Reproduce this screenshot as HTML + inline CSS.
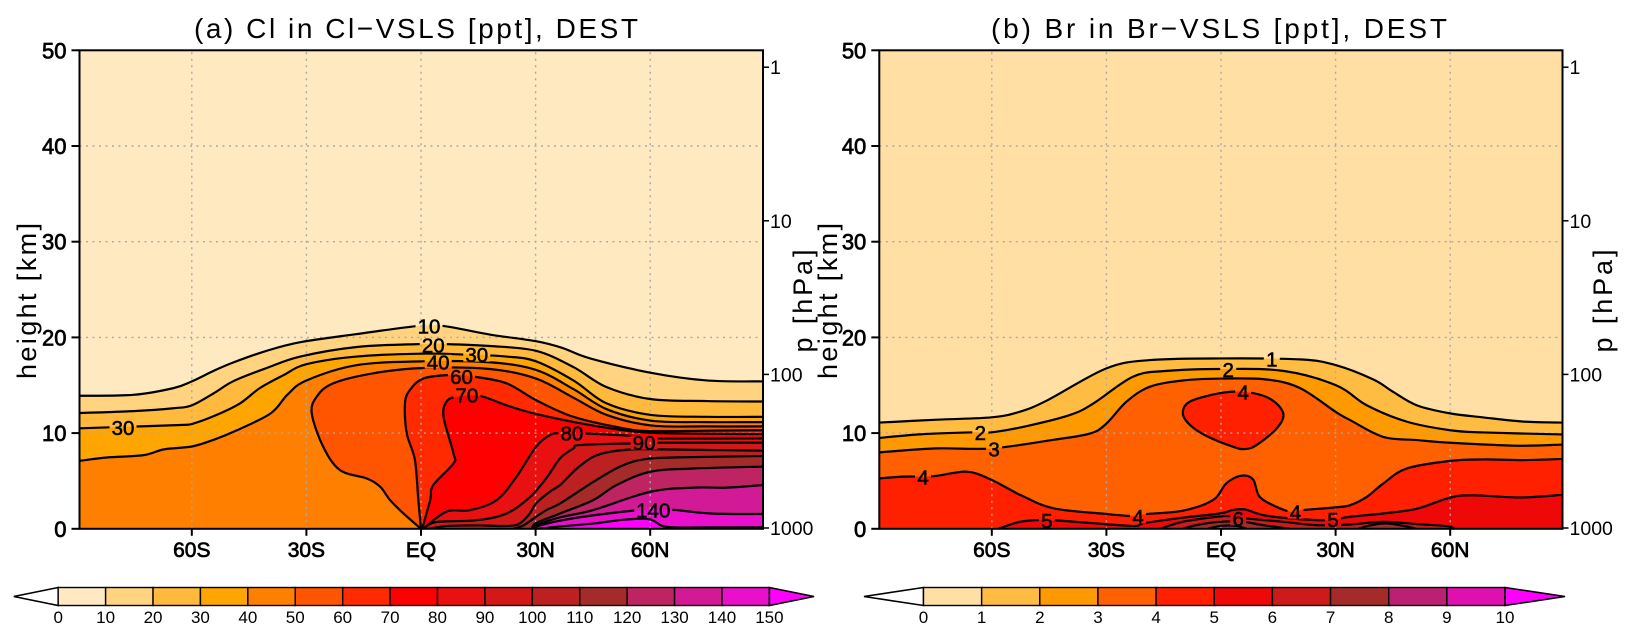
<!DOCTYPE html>
<html>
<head>
<meta charset="utf-8">
<title>Cl and Br VSLS zonal mean</title>
<style>
html,body{margin:0;padding:0;background:#fff;}
svg{display:block;font-family:"Liberation Sans",sans-serif;}
text{fill:#000;}
</style>
</head>
<body>
<svg id="chart" xmlns="http://www.w3.org/2000/svg" width="1628" height="637" viewBox="0 0 1628 637"></svg>
<script>
// ---------- Panel (a) Cl contours: [latitude, height km] ----------
const cl10=[[-89.4,13.9],[-75.3,14],[-64.8,14.7],[-60,15.4],[-54.3,16.5],[-49,17.4],[-40.4,18.6],[-31.6,19.5],[-16.8,20.35],[-0.7,21.2],[5.8,21.2],[18,20.3],[30.1,19.6],[37,18.9],[44.3,17.8],[60.2,16.3],[74.8,15.5],[89.5,15.4]];
const cl20=[[-89.4,12.1],[-75.3,12.3],[-64.8,12.6],[-60,12.9],[-54.3,14.15],[-49,15.45],[-40.4,16.8],[-31.6,18],[-16.8,19],[-0.7,19.3],[6.7,19.3],[18,19.1],[30.1,18.6],[39.9,16.9],[48.6,14.8],[60.2,13.55],[74.8,13.35],[89.5,13.3]];
const cl30=[[-89.4,10.5],[-78,10.65],[-63,10.85],[-59.6,11],[-53.5,11.9],[-47.4,13.1],[-42.2,14.7],[-36,16.05],[-30,17.2],[-16.9,18],[0,18.3],[12,18.2],[22.4,18],[30.1,17.5],[39.9,15.5],[48.6,13.1],[60.2,11.9],[74.8,11.7],[89.5,11.7]];
const cl40=[[-89.4,7.1],[-82.2,7.45],[-72.6,7.7],[-67.3,8.3],[-60,8.6],[-54.3,9.3],[-49,10.15],[-39.4,12.05],[-35,14],[-30,15.5],[-16.9,17.1],[0.5,17.5],[18,17.4],[30.1,16.6],[39.9,14.6],[48.6,12.5],[60.2,11.3],[74.8,11.15],[89.5,11.15]];
const cl50=[[0,0],[-4.6,1.6],[-8.1,3],[-10.7,4.4],[-14.2,5.26],[-21.2,6.13],[-25.6,8.57],[-28.6,12.06],[-27.3,13.8],[-23,15.2],[-12.5,16.25],[0.5,16.8],[18,16.7],[30.1,15.7],[39.9,13.7],[48.6,11.9],[60.2,10.8],[74.8,10.7],[89.5,10.7]];
const cl60=[[0,0],[-0.7,3],[-1.6,7.2],[-3.75,10],[-4.2,13.1],[-2.9,14.5],[0.6,15.7],[7.6,16.07],[13.7,15.9],[22.4,15.2],[30.1,13.45],[39.9,11.7],[53,10.5],[60.2,10.2],[74.8,10.25],[89.5,10.3]];
const cl70=[[0.3,0],[2.4,3],[3.2,4.56],[8.5,6.83],[8.5,7.87],[5.9,11.7],[6.7,13.3],[9.4,13.8],[15.5,13.87],[22.4,12.9],[30.1,12],[44.3,10.84],[57.4,10.1],[71,9.95],[89.5,9.9]];
const cl80=[[0.5,0],[6.7,1.8],[12.8,1.95],[19.8,3],[25,5.44],[30.1,8.57],[33.8,9.8],[36.4,10],[42.5,9.97],[55.6,9.7],[61.7,9.45],[89.5,9.45]];
const cl90=[[0.7,0],[4,0.7],[14.6,0.9],[22.4,1.6],[28.5,3.3],[33,5.4],[36.4,7.36],[39.9,8.4],[41.6,8.75],[55.6,8.93],[61.7,9],[89.5,9]];
const cl100=[[1.9,0],[7,0.3],[15,0.35],[23,0.3],[26,0.6],[28.5,1.6],[30.1,2.65],[33.8,3.9],[36.4,4.57],[40.8,6.3],[45.1,7.53],[49.5,8.05],[55.6,8.3],[61.7,8.3],[89.5,8.16]];
const cl110=[[24.2,0],[27,0.4],[30.1,1.25],[33,2],[36.4,2.65],[45.1,4.9],[52.1,6.5],[58.2,7.25],[67,7.46],[89.5,7.6]];
const cl120=[[29,0],[30.1,0.6],[36.4,1.6],[45.1,3],[51.2,4.57],[60,5.96],[71.3,6.3],[89.5,6.5]];
const cl130=[[29.6,0],[30.4,0.4],[36.4,1.2],[45.1,1.96],[60,3.87],[71.3,4.3],[80,4.3],[89.5,4.57]];
const cl140=[[29.9,0],[30.8,0.3],[36.4,0.85],[45,1.4],[56,1.9],[65.2,2],[75.7,1.6],[89.5,1.55]];
const cl150=[[30.7,0],[36.4,0.25],[45.1,0.55],[53.9,0.98],[60,0.98],[64.3,0.2],[75.7,0.15],[89.5,0.15]];

// ---------- Panel (b) Br contours ----------
const br1=[[-89.4,11.1],[-74.4,11.4],[-60,11.65],[-52.6,12.24],[-45.6,13.4],[-30,16.76],[-18.6,17.63],[0,17.8],[20.7,17.7],[30.1,17.1],[39.9,15.6],[45.1,14.3],[51.3,12.9],[60,12.06],[68.7,11.64],[79.2,11.2],[89.4,11.1]];
const br2=[[-89.4,9.5],[-78.8,9.87],[-64.8,10.08],[-60,10.08],[-50.8,10.74],[-39.5,11.9],[-33.4,13.1],[-23,15.9],[-14.2,16.5],[0,16.7],[16.3,16.5],[30.1,15],[38.2,12.9],[48.6,11.2],[60,10.3],[68.7,10.07],[89.4,9.86]];
const br3=[[-89.4,7.99],[-74.4,8.4],[-60,8.4],[-43.9,9.3],[-34.2,9.97],[-30,11],[-24.7,13.3],[-18.6,14.85],[-9.9,15.5],[0,15.7],[12,15.6],[20.7,14.7],[30.1,12.2],[33.8,11.36],[42.5,9.6],[51.3,9.27],[60,8.99],[77.5,8.68],[89.4,8.8]];
const br4=[[-89.4,5.27],[-83.1,5.45],[-75.2,5.5],[-66.5,5.97],[-60,5.1],[-52.5,3.53],[-43.8,2.14],[-30,1.55],[-23,1.33],[-19.6,1.54],[-10,1.89],[-2.1,3],[1.4,4.75],[5.3,5.55],[8.4,5.16],[10.1,3.35],[14.5,2.3],[18.4,1.78],[21.5,1.96],[30,2.24],[33.8,2.47],[38.2,3.34],[42.5,4.74],[48.6,6.3],[60,7.1],[68.7,7.25],[79.2,7.18],[89.4,7.3]];
const br4Island=[[-10,12.06],[-8.1,13.3],[0,14.2],[6.3,14.3],[12.8,13.6],[16.3,12.06],[14.6,10.5],[9.3,8.75],[6.3,8.33],[3.2,8.57],[-3.8,9.7],[-8.1,10.84]];
const br5=[[-58.3,0],[-52.5,0.74],[-45.6,0.92],[-35.1,0.64],[-23,0.3],[-20,0.6],[-10,1.16],[-0.3,1.6],[3.1,1.96],[6.2,2.03],[11,1.44],[18,1.09],[27.6,0.9],[33.8,1.26],[42.5,1.6],[51.3,2.1],[60,3.27],[66.1,3.5],[78.3,3.27],[89.4,3.55]];
const br6=[[-16,0],[-10,0.73],[-1.2,1.25],[2.3,1.32],[6.6,1.08],[16.2,0.73],[25,0.38],[33.8,0.45],[42.5,0.73],[51.3,0.49],[59.1,0.28],[61.3,0]];
const br7=[[-10,0],[-6.5,0.38],[-0.3,0.73],[5.8,0.73],[11,0.38],[18,0]];
const br7East=[[36,0],[39,0.35],[43.4,0.56],[49.5,0.17],[51,0]];
const br8=[[-3.4,0],[-0.3,0.3],[4,0.3],[6.6,0]];

// ---------- Contour labels: [text, latitude, height km] ----------
const clLabels=[["10",2.1,21.2],["20",3.2,19.2],["30",14.6,18.2],["40",4.5,17.45],["60",10.6,15.9],["70",12,14],["80",39.5,10],["90",58.4,9],["140",60.8,1.95],["30",-78,10.6]];
const brLabels=[["1",13.3,17.74],["2",1.9,16.66],["4",5.8,14.3],["2",-63,10.08],["3",-59.4,8.34],["4",-78,5.4],["5",-45.6,0.85],["4",-21.7,1.26],["4",19.5,1.78],["6",4.5,1.09],["5",29.3,0.98]];

// ---------- Axis tick values ----------
const latTicks=[-60,-30,0,30,60];
const latTickLabels=["60S","30S","EQ","30N","60N"];
const heightTicks=[0,10,20,30,40,50];
const gridHeights=[10,20,30,40];
const pressureTicks=[1,10,100,1000];
const clLevels=[0,10,20,30,40,50,60,70,80,90,100,110,120,130,140,150];
const brLevels=[0,1,2,3,4,5,6,7,8,9,10];

// ---------- Colours ----------
const clColors=["#fee9c1","#ffd37f","#ffb93d","#ffa500","#ff7f00","#ff5500","#ff2a00","#ff0000","#e81010","#d41818","#bd2020","#a52a2a","#bf2462","#d21a96","#ea0fcb","#ff00ff"];
const brColors=["#ffdfa4","#ffbc42","#ff9900","#ff6000","#ff2000","#ee0808","#cd1a1a","#a52a2a","#bc2070","#e010b0","#ff00ff"];

const clContours=[cl10,cl20,cl30,cl40,cl50,cl60,cl70,cl80,cl90,cl100,cl110,cl120,cl130,cl140,cl150];
const brContours=[br1,br2,br3,br4,br5,br6,br7,br8];
const brContourColors=[brColors[1],brColors[2],brColors[3],brColors[4],brColors[5],brColors[6],brColors[7],brColors[8]];

const svg=document.getElementById('chart');
const NS='http://www.w3.org/2000/svg';
function mk(tag,attrs,parent){
  const e=document.createElementNS(NS,tag);
  for(const k in attrs){e.setAttribute(k,attrs[k]);}
  (parent||svg).appendChild(e);
  return e;
}
function smooth(pts,closed){
  const n=pts.length;
  let d='M'+pts[0][0].toFixed(2)+' '+pts[0][1].toFixed(2);
  const last=closed?n:n-1;
  for(let i=0;i<last;i++){
    const p0=closed?pts[(i-1+n)%n]:pts[Math.max(i-1,0)];
    const p1=pts[i%n];
    const p2=pts[(i+1)%n];
    const p3=closed?pts[(i+2)%n]:pts[Math.min(i+2,n-1)];
    const c1x=p1[0]+(p2[0]-p0[0])/6, c1y=p1[1]+(p2[1]-p0[1])/6;
    const c2x=p2[0]-(p3[0]-p1[0])/6, c2y=p2[1]-(p3[1]-p1[1])/6;
    d+='C'+c1x.toFixed(2)+' '+c1y.toFixed(2)+' '+c2x.toFixed(2)+' '+c2y.toFixed(2)+' '+p2[0].toFixed(2)+' '+p2[1].toFixed(2);
  }
  return closed?d+'Z':d;
}

function drawPanel(id,cfg){
  const xS=lat=>cfg.eq+lat*3.82;
  const yS=h=>528.8-h*9.57;
  const pS=p=>528-153.6*(3-Math.log10(p));
  const panel=mk('g',{});
  
  

  const defs=mk('defs',{},panel);
  const clip=mk('clipPath',{id:id+'-clip'},defs);
  mk('rect',{x:cfg.left,y:yS(50),width:cfg.right-cfg.left,height:yS(0)-yS(50)},clip);
  const mask=mk('mask',{id:id+'-mask',maskUnits:'userSpaceOnUse',x:0,y:0,width:1628,height:637},defs);
  mk('rect',{x:0,y:0,width:1628,height:637,fill:'#fff'},mask);
  cfg.labels.forEach(l=>{
    const w=l[0].length*11+5;
    mk('rect',{x:xS(l[1])-w/2,y:yS(l[2])-7,width:w,height:14,fill:'#000'},mask);
  });

  const plot=mk('g',{'clip-path':'url(#'+id+'-clip)'},panel);
  
  
  const bg=mk('rect',{x:cfg.left,y:yS(50),width:cfg.right-cfg.left,height:yS(0)-yS(50),fill:cfg.base},plot);
  
  

  cfg.contours.forEach((c,i)=>{
    const pts=c.map(p=>[xS(p[0]),yS(p[1])]);
    const d=smooth(pts,false)+'L'+xS(c[c.length-1][0])+' '+yS(-1)+'L'+xS(c[0][0])+' '+yS(-1)+'Z';
    const f=mk('path',{d:d,fill:cfg.colors[i]},plot);
    
    
  });
  (cfg.islands||[]).forEach(isl=>{
    const f=mk('path',{d:smooth(isl.pts.map(p=>[xS(p[0]),yS(p[1])]),true),fill:isl.color},plot);
    
    
  });
  (cfg.extra||[]).forEach(ex=>{
    const pts=ex.pts.map(p=>[xS(p[0]),yS(p[1])]);
    const f=mk('path',{d:smooth(pts,false)+'Z',fill:ex.color},plot);
    
    
  });

  // grid
  gridHeights.forEach(h=>{
    const g=mk('line',{x1:cfg.left,x2:cfg.right,y1:yS(h),y2:yS(h),stroke:'#a9a9a9','stroke-width':1.4,'stroke-dasharray':'2 4.5'},plot);
    
    
  });
  latTicks.forEach(t=>{
    const g=mk('line',{x1:xS(t),x2:xS(t),y1:yS(0),y2:yS(50),stroke:'#a9a9a9','stroke-width':1.4,'stroke-dasharray':'2 4.5'},plot);
    
    
  });

  // contour lines
  const lines=mk('g',{mask:'url(#'+id+'-mask)',fill:'none',stroke:'#000','stroke-width':2.2},plot);
  
  
  cfg.contours.concat(cfg.extra?cfg.extra.map(e=>e.pts):[]).forEach(c=>{
    const l=mk('path',{d:smooth(c.map(p=>[xS(p[0]),yS(p[1])]),false)},lines);
    
    
  });
  (cfg.islands||[]).forEach(isl=>{
    const l=mk('path',{d:smooth(isl.pts.map(p=>[xS(p[0]),yS(p[1])]),true)},lines);
    
    
  });

  // contour labels
  cfg.labels.forEach(l=>{
    const t=mk('text',{x:xS(l[1]),y:yS(l[2])+7.5,'text-anchor':'middle','font-size':20.5,stroke:'#000','stroke-width':0.55},panel);
    t.textContent=l[0];
    
    
  });

  // frame
  const frame=mk('rect',{x:cfg.left,y:yS(50),width:cfg.right-cfg.left,height:yS(0)-yS(50),fill:'none',stroke:'#000','stroke-width':2},panel);
  
  

  // left ticks
  heightTicks.forEach(h=>{
    const tk=mk('line',{x1:cfg.left-8,x2:cfg.left,y1:yS(h),y2:yS(h),stroke:'#000','stroke-width':2},panel);
    
    
    const t=mk('text',{x:cfg.left-13,y:yS(h)+8,'text-anchor':'end','font-size':22,stroke:'#000','stroke-width':0.7},panel);
    t.textContent=String(h);
    
    
  });
  // bottom ticks
  latTicks.forEach((v,i)=>{
    const tk=mk('line',{x1:xS(v),x2:xS(v),y1:yS(0),y2:yS(0)+7,stroke:'#000','stroke-width':2},panel);
    
    
    const t=mk('text',{x:xS(v),y:557,'text-anchor':'middle','font-size':21,stroke:'#000','stroke-width':0.7},panel);
    t.textContent=latTickLabels[i];
    
    
  });
  // right pressure axis
  pressureTicks.forEach(p=>{
    const tk=mk('line',{x1:cfg.right,x2:cfg.right+6,y1:pS(p),y2:pS(p),stroke:'#000','stroke-width':1.5},panel);
    
    
    const t=mk('text',{x:cfg.right+7,y:pS(p)+7,'font-size':19.5},panel);
    t.textContent=String(p);
    
    
  });

  // titles
  const title=mk('text',{x:cfg.titleX,y:38,'font-size':28,textLength:cfg.titleW,lengthAdjust:'spacing'},panel);
  title.textContent=cfg.title;
  
  
  const yt=mk('text',{transform:'translate('+cfg.yTitleX+',301) rotate(-90)','text-anchor':'middle','font-size':27,textLength:156,lengthAdjust:'spacing'},panel);
  yt.textContent='height [km]';
  
  
  const pt=mk('text',{transform:'translate('+cfg.pTitleX+',301) rotate(-90)','text-anchor':'middle','font-size':27,textLength:103,lengthAdjust:'spacing'},panel);
  pt.textContent='p [hPa]';
  
  

  // colour bar
  const cb=cfg.bar;
  const bx=v=>cb.x0+(v-cfg.levels[0])/(cfg.levels[cfg.levels.length-1]-cfg.levels[0])*(cb.x1-cb.x0);
  const barG=mk('g',{},panel);
  
  
  const yTop=587.5,yBot=605.5,yMid=596.5;
  const lt=mk('polygon',{points:cb.x0+','+yTop+' '+cb.tipL+','+yMid+' '+cb.x0+','+yBot,fill:'#fff',stroke:'#000','stroke-width':1.6},barG);
  
  
  for(let i=0;i<cfg.levels.length-1;i++){
    const r=mk('rect',{x:bx(cfg.levels[i]),y:yTop,width:bx(cfg.levels[i+1])-bx(cfg.levels[i]),height:yBot-yTop,fill:cfg.barColors[i],stroke:'#000','stroke-width':1.4},barG);
    
    
  }
  const rt=mk('polygon',{points:cb.x1+','+yTop+' '+cb.tipR+','+yMid+' '+cb.x1+','+yBot,fill:cfg.barColors[cfg.barColors.length-1],stroke:'#000','stroke-width':1.6},barG);
  
  
  cfg.levels.forEach(v=>{
    const t=mk('text',{x:bx(v),y:623,'text-anchor':'middle','font-size':17},barG);
    t.textContent=String(v);
    
    
  });
}

drawPanel('panel-a',{
  left:79.5,right:763,eq:421,base:clColors[0],
  contours:clContours,colors:clColors.slice(1),labels:clLabels,levels:clLevels,barColors:clColors,
  title:'(a) Cl in Cl\u2212VSLS [ppt], DEST',titleX:194,titleW:444,yTitleX:36,pTitleX:812,
  bar:{x0:58.2,x1:769.4,tipL:13.8,tipR:814}
});
drawPanel('panel-b',{
  left:879.3,right:1562.5,eq:1221,base:brColors[0],
  contours:brContours,colors:brContourColors,labels:brLabels,levels:brLevels,barColors:brColors,
  islands:[{pts:br4Island,color:brColors[4]}],
  extra:[{pts:br7East,color:brColors[7]}],
  title:'(b) Br in Br\u2212VSLS [ppt], DEST',titleX:991,titleW:456,yTitleX:837,pTitleX:1612,
  bar:{x0:923.5,x1:1505,tipL:864,tipR:1565}
});
</script>
</body>
</html>
